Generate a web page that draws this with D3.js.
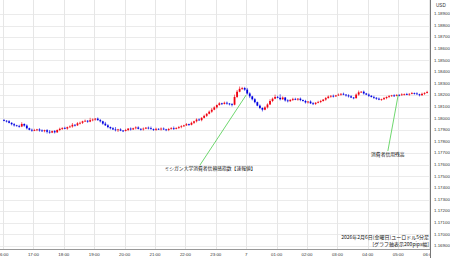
<!DOCTYPE html>
<html>
<head>
<meta charset="utf-8">
<script src="https://cdn.jsdelivr.net/npm/d3@7"></script>
<style>
body{margin:0;background:#fff;}
svg{display:block;}
</style>
</head>
<body>
<div class="chart"></div>
<script>
// EUR/USD 5-minute candles, 2026-02-06 16:00 -> 2026-02-07 06:00 (JST)
const firstOpen = 1.17985;
const closes = [
  1.17980,1.17975,1.17962,1.17950,1.17940,1.17935,1.17930,1.17952,1.17938,1.17915,1.17902,1.17895,
  1.17900,1.17905,1.17896,1.17890,1.17898,1.17885,1.17878,1.17890,1.17880,1.17900,1.17910,1.17918,
  1.17912,1.17925,1.17930,1.17945,1.17940,1.17958,1.17962,1.17975,1.17980,1.17972,1.17985,1.17990,
  1.17998,1.17985,1.17975,1.17955,1.17940,1.17925,1.17915,1.17905,1.17898,1.17905,1.17895,1.17892,
  1.17900,1.17912,1.17905,1.17915,1.17922,1.17910,1.17905,1.17912,1.17920,1.17915,1.17908,1.17902,
  1.17910,1.17905,1.17912,1.17905,1.17900,1.17908,1.17915,1.17910,1.17918,1.17925,1.17932,1.17940,
  1.17950,1.17945,1.17962,1.17975,1.17990,1.17985,1.18005,1.18022,1.18040,1.18058,1.18075,1.18095,
  1.18115,1.18130,1.18125,1.18135,1.18128,1.18122,1.18118,1.18185,1.18230,1.18255,1.18262,1.18248,
  1.18215,1.18190,1.18165,1.18140,1.18110,1.18090,1.18075,1.18095,1.18120,1.18150,1.18170,1.18185,
  1.18178,1.18165,1.18180,1.18155,1.18148,1.18160,1.18168,1.18162,1.18170,1.18158,1.18150,1.18138,
  1.18145,1.18130,1.18125,1.18135,1.18142,1.18150,1.18162,1.18175,1.18188,1.18195,1.18190,1.18198,
  1.18205,1.18212,1.18205,1.18198,1.18190,1.18180,1.18175,1.18205,1.18225,1.18230,1.18215,1.18205,
  1.18195,1.18185,1.18178,1.18170,1.18162,1.18165,1.18175,1.18185,1.18192,1.18198,1.18195,1.18203,
  1.18200,1.18207,1.18210,1.18205,1.18212,1.18218,1.18215,1.18208,1.18200,1.18212,1.18220,1.18228
];
// wick lengths beyond the body, in pips
const wickUp = [
  1,0.5,1,0.5,1,0.5,1,1.5,0.5,1,0.5,1,
  1,0.5,1,1,0.5,1,1.5,0.5,1,0.5,1,0.5,
  1,0.5,1,1.5,0.5,1,1,0.5,1,0.5,2,1,
  0.5,1,1,0.5,1.5,1,0.5,1,2,0.5,1,0.5,
  1,0.5,1,0.5,1,1,0.5,1,0.5,1,1.5,0.5,
  1,0.5,1,1,0.5,1,1,1.5,0.5,1,1,0.5,
  1,0.5,1,0.5,1,1,0.5,1,0.5,1,1.5,1,
  0.5,1,0.5,1,1,0.5,1,2,1.5,2,1,1,
  1.5,1,0.5,1,0.5,1,0.5,1,1,1.5,1,2,
  1,3,1,0.5,1,0.5,1,1,0.5,1,0.5,1,
  0.5,1,1,0.5,1,1,0.5,1,1,0.5,1,0.5,
  1,0.5,1,0.5,1,1,0.5,1,1.5,0.5,1,0.5,
  1,0.5,1,0.5,1,0.5,1,0.5,1,0.5,1,0.5,
  0.5,1,0.5,1,0.5,1,0.5,1,0.5,1,0.5,1
];
const wickDn = [
  0.5,1,0.5,1,1,0.5,1,0.5,1,1,0.5,1,
  0.5,1,1,0.5,1,1.5,1,0.5,1,0.5,1,1,
  0.5,1,0.5,1,1,0.5,1,1,0.5,1,0.5,1,
  1,0.5,1,1,0.5,1,1,0.5,1,1.5,0.5,1,
  0.5,1,1,0.5,1,0.5,1,1,0.5,1,0.5,1,
  1,0.5,1,0.5,1,1,0.5,1,0.5,1,1,0.5,
  0.5,1,0.5,1,1,0.5,1,0.5,1,0.5,1,0.5,
  1,0.5,1,0.5,1,1,1.5,0.5,1,0.5,1,1,
  1,1.5,1,1,0.5,1,1.5,0.5,1,0.5,1,0.5,
  0.5,1,0.5,1,1,0.5,1,0.5,1,1,0.5,1,
  1,0.5,1,1,0.5,1,0.5,1,0.5,1,1,0.5,
  0.5,1,0.5,1,1,0.5,1,0.5,1,0.5,1,0.5,
  1,0.5,1,1,0.5,1,0.5,1,1,0.5,1,0.5,
  1,0.5,1,0.5,1,0.5,1,0.5,1,0.5,1,0.5
];
const hourLabels = ["16:00","17:00","18:00","19:00","20:00","21:00","22:00","23:00",
  "7","01:00","02:00","03:00","04:00","05:00","06:00"];
const priceTicks = [1.189,1.188,1.187,1.186,1.185,1.184,1.183,1.182,1.181,1.180,
  1.179,1.178,1.177,1.176,1.175,1.174,1.173,1.172,1.171,1.170,1.169];
// event: pointed-at time/price, line foot, text centre (hours from 16:00)
const events = [
  {label:"ミシガン大学消費者信頼感指数【速報値】", hour:8, price:1.18202,
   footHour:6.48, footPrice:1.17598, textHour:6.81, textPrice:1.17568},
  {label:"消費者信用残高", hour:13, price:1.18202,
   footHour:12.66, footPrice:1.17719, textHour:12.66, textPrice:1.17690}
];
const titleLines = ["2026年2月6日(金曜日)ユーロドル5分足","[グラフ軸表示200pips幅]"];

const W = 450, H = 258;
const plotRight = 430, plotBottom = 249;
const t0 = new Date(2026, 1, 6, 16, 0);
const hourTime = h => new Date(t0.getTime() + h * 3600e3);

const svg = d3.select(".chart").append("svg")
  .attr("width", W).attr("height", H)
  .style("font-family", "'Liberation Sans', Arial, sans-serif");

const x = d3.scaleTime()
  .domain([t0, hourTime(14)])
  .range([3, 428.6]);
const y = d3.scaleLinear()
  .domain([1.169, 1.189])
  .range([246, 14]);

// grid
svg.append("g").selectAll("line.h")
  .data(priceTicks).join("line")
  .attr("x1", 0).attr("x2", plotRight)
  .attr("y1", d => Math.round(y(d)) + 0.5).attr("y2", d => Math.round(y(d)) + 0.5)
  .attr("stroke", "#ebebeb").attr("stroke-width", 1);
svg.append("g").selectAll("line.v")
  .data(hourLabels).join("line")
  .attr("x1", (d, i) => Math.round(x(hourTime(i))) + 0.5)
  .attr("x2", (d, i) => Math.round(x(hourTime(i))) + 0.5)
  .attr("y1", 0).attr("y2", plotBottom)
  .attr("stroke", "#e6e6e6").attr("stroke-width", 1);

// candles
const candles = closes.map((c, i) => {
  const o = i === 0 ? firstOpen : closes[i - 1];
  return {
    t: d3.timeMinute.offset(t0, i * 5 + 2.5),
    o: o, c: c,
    h: Math.max(o, c) + wickUp[i] * 0.0001,
    l: Math.min(o, c) - wickDn[i] * 0.0001
  };
});
const col = d => d.c >= d.o ? "#f00010" : "#0000e0";
const cg = svg.append("g");
cg.selectAll("line").data(candles).join("line")
  .attr("x1", d => x(d.t)).attr("x2", d => x(d.t))
  .attr("y1", d => y(d.h)).attr("y2", d => y(d.l))
  .attr("stroke", col).attr("stroke-width", 0.6);
cg.selectAll("rect").data(candles).join("rect")
  .attr("x", d => x(d.t) - 0.9).attr("width", 1.8)
  .attr("y", d => y(Math.max(d.o, d.c)))
  .attr("height", d => Math.max(0.8, Math.abs(y(d.o) - y(d.c))))
  .attr("fill", col);

// annotations
const ag = svg.append("g");
ag.selectAll("line").data(events).join("line")
  .attr("x1", d => x(hourTime(d.hour))).attr("y1", d => y(d.price))
  .attr("x2", d => x(hourTime(d.footHour))).attr("y2", d => y(d.footPrice))
  .attr("stroke", "#5fd35f").attr("stroke-width", 0.9);
ag.selectAll("text").data(events).join("text")
  .attr("x", d => x(hourTime(d.textHour))).attr("y", d => y(d.textPrice))
  .attr("text-anchor", "middle").attr("dominant-baseline", "middle")
  .style("font-family", "'Noto Sans CJK JP', sans-serif")
  .attr("font-size", 4.8).attr("fill", "#111")
  .text(d => d.label);

// title block
svg.append("g").selectAll("text").data(titleLines).join("text")
  .attr("x", 429).attr("y", (d, i) => 239 + i * 6.5)
  .attr("text-anchor", "end")
  .style("font-family", "'Noto Sans CJK JP', sans-serif")
  .attr("font-size", 5).attr("fill", "#111")
  .text(d => d);

// axes frame
svg.append("line").attr("x1", plotRight + 0.5).attr("x2", plotRight + 0.5)
  .attr("y1", 0).attr("y2", H).attr("stroke", "#777");
svg.append("line").attr("x1", 0).attr("x2", plotRight)
  .attr("y1", plotBottom + 0.5).attr("y2", plotBottom + 0.5).attr("stroke", "#999");

// right price axis
svg.append("text").attr("x", 436).attr("y", 7).attr("font-size", 4.6)
  .attr("fill", "#333").text("USD");
svg.append("g").selectAll("text").data(priceTicks).join("text")
  .attr("x", 434).attr("y", d => y(d))
  .attr("dominant-baseline", "middle")
  .attr("font-size", 4.4).attr("fill", "#333")
  .text(d => d3.format(".5f")(d));

// bottom time axis
svg.append("clipPath").attr("id", "xclip").append("rect")
  .attr("x", 0).attr("y", 0).attr("width", plotRight).attr("height", H);
svg.append("g").attr("clip-path", "url(#xclip)")
  .selectAll("text").data(hourLabels).join("text")
  .attr("x", (d, i) => x(hourTime(i))).attr("y", 254.5)
  .attr("text-anchor", "middle").attr("dominant-baseline", "middle")
  .attr("font-size", 4.4).attr("fill", "#333")
  .text(d => d);
</script>
</body>
</html>
